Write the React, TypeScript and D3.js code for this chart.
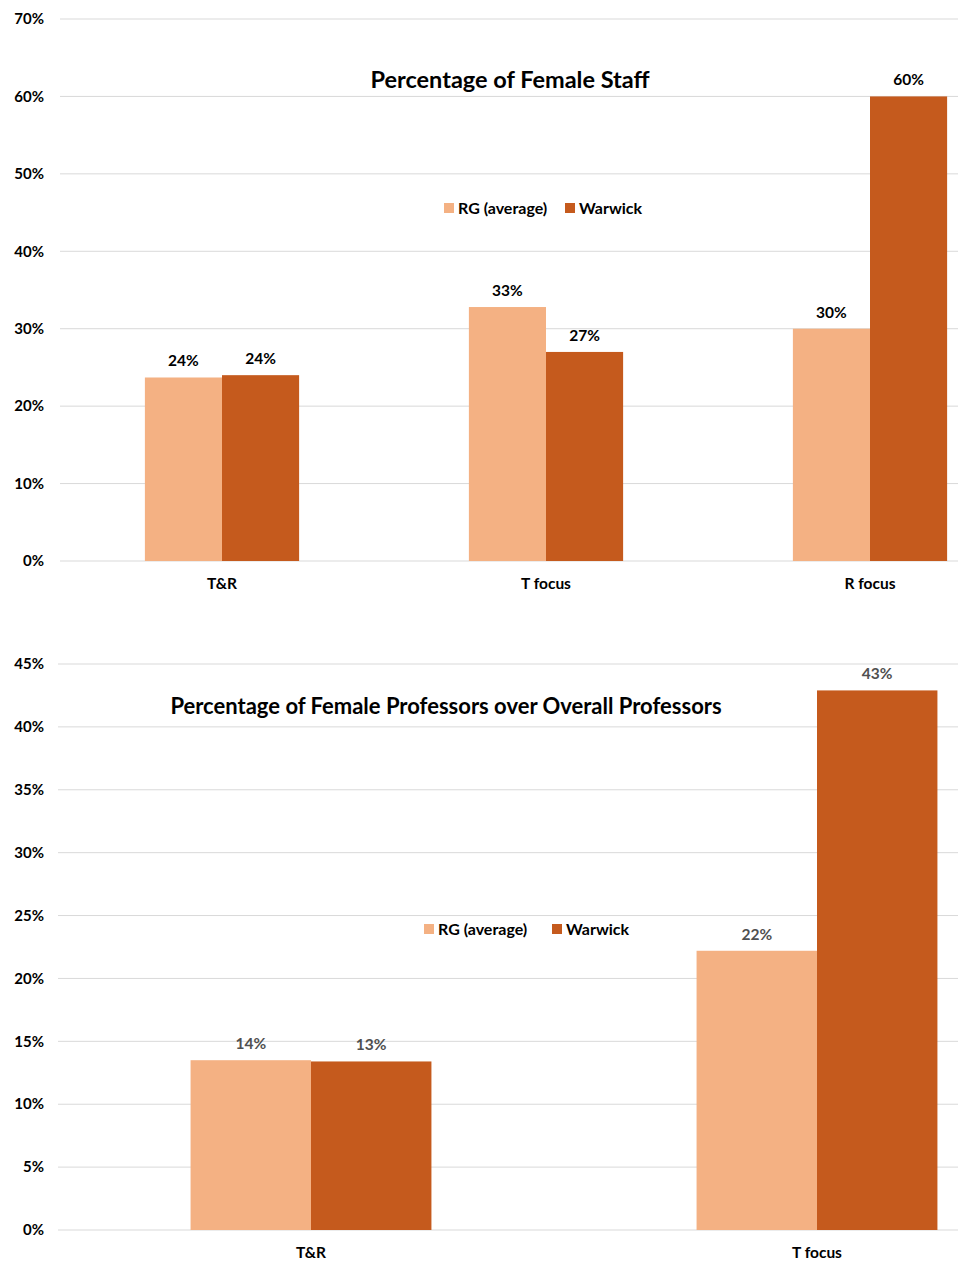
import { useEffect, useRef } from 'react'
import * as d3 from 'd3'

const seriesNames = ['RG (average)', 'Warwick']
const colors = ['#f4b183', '#c55a1d']

const staffCategories = ['T&R', 'T focus', 'R focus']
const staffRG = [0.237, 0.328, 0.30]
const staffWarwick = [0.24, 0.27, 0.60]
const staffTicks = [0, 0.1, 0.2, 0.3, 0.4, 0.5, 0.6, 0.7]

const profCategories = ['T&R', 'T focus']
const profRG = [0.135, 0.222]
const profWarwick = [0.134, 0.429]
const profTicks = [0, 0.05, 0.1, 0.15, 0.2, 0.25, 0.3, 0.35, 0.4, 0.45]

const W = 958
const H = 1269
const font = 'Lato, "Open Sans", sans-serif'

type Panel = {
  title: string
  titleSize: number
  categories: string[]
  rg: number[]
  warwick: number[]
  ticks: number[]
  yRange: [number, number]
  xRange: [number, number]
  titleX: number
  titleY: number
  legendX: number
  legendY: number
  legendGap: number
  labelColor: string
}

const App = () => {
  const ref = useRef<SVGSVGElement>(null)

  useEffect(() => {
    if (!ref.current) return
    const svg = d3.select(ref.current)
    svg.selectAll('*').remove()

    const panels: Panel[] = [
      {
        title: 'Percentage of Female Staff',
        titleSize: 23.5,
        categories: staffCategories,
        rg: staffRG,
        warwick: staffWarwick,
        ticks: staffTicks,
        yRange: [561, 19],
        xRange: [60, 1032],
        titleX: 510, titleY: 80,
        legendX: 444, legendY: 208, legendGap: 121,
        labelColor: '#000000'
      },
      {
        title: 'Percentage of Female Professors over Overall Professors',
        titleSize: 22,
        categories: profCategories,
        rg: profRG,
        warwick: profWarwick,
        ticks: profTicks,
        yRange: [1230, 664],
        xRange: [58, 1070],
        titleX: 446, titleY: 706,
        legendX: 424, legendY: 929, legendGap: 128,
        labelColor: '#505050'
      }
    ]

    panels.forEach(p => {
      const g = svg.append('g')
      const y = d3.scaleLinear()
        .domain([0, p.ticks[p.ticks.length - 1]])
        .range(p.yRange)
      const x = d3.scaleBand()
        .domain(p.categories)
        .range(p.xRange)
        .paddingInner(0.524)
        .paddingOuter(0.262)
      const xs = d3.scaleBand()
        .domain(seriesNames)
        .range([0, x.bandwidth()])

      // gridlines + y labels
      g.selectAll('line.grid')
        .data(p.ticks).enter().append('line')
        .attr('x1', p.xRange[0]).attr('x2', W)
        .attr('y1', d => y(d)).attr('y2', d => y(d))
        .attr('stroke', '#d9d9d9')
        .attr('stroke-width', 1)

      g.selectAll('text.ytick')
        .data(p.ticks).enter().append('text')
        .attr('x', 44)
        .attr('y', d => y(d))
        .attr('dy', '0.35em')
        .attr('text-anchor', 'end')
        .style('font-family', font)
        .style('font-weight', 'bold')
        .style('font-size', '15px')
        .attr('fill', '#000')
        .text(d => d3.format('.0%')(d))

      const rows = p.categories.map((c, i) => [
        { cat: c, s: seriesNames[0], v: p.rg[i], color: colors[0] },
        { cat: c, s: seriesNames[1], v: p.warwick[i], color: colors[1] }
      ]).flat()

      g.selectAll('rect.bar')
        .data(rows).enter().append('rect')
        .attr('x', d => (x(d.cat) as number) + (xs(d.s) as number))
        .attr('width', xs.bandwidth())
        .attr('y', d => y(d.v))
        .attr('height', d => y(0) - y(d.v))
        .attr('fill', d => d.color)

      g.selectAll('text.val')
        .data(rows).enter().append('text')
        .attr('x', d => (x(d.cat) as number) + (xs(d.s) as number) + xs.bandwidth() / 2)
        .attr('y', d => y(d.v) - 11)
        .attr('text-anchor', 'middle')
        .style('font-family', font)
        .style('font-weight', 'bold')
        .style('font-size', '15.5px')
        .attr('fill', p.labelColor)
        .text(d => d3.format('.0%')(d.v))

      g.selectAll('text.cat')
        .data(p.categories).enter().append('text')
        .attr('x', d => (x(d) as number) + x.bandwidth() / 2)
        .attr('y', y(0) + 28)
        .attr('text-anchor', 'middle')
        .style('font-family', font)
        .style('font-weight', 'bold')
        .style('font-size', '15.5px')
        .attr('fill', '#000')
        .text(d => d)

      g.append('text')
        .attr('x', p.titleX)
        .attr('y', p.titleY)
        .attr('dy', '0.35em')
        .attr('text-anchor', 'middle')
        .style('font-family', font)
        .style('font-weight', 'bold')
        .style('font-size', `${p.titleSize}px`)
        .attr('fill', '#000')
        .text(p.title)

      const legend = g.selectAll('g.legend')
        .data(seriesNames).enter().append('g')
        .attr('transform', (d, i) => `translate(${p.legendX + i * p.legendGap},${p.legendY})`)
      legend.append('rect')
        .attr('x', 0).attr('y', -5)
        .attr('width', 10).attr('height', 10)
        .attr('fill', (d, i) => colors[i])
      legend.append('text')
        .attr('x', 14)
        .attr('dy', '0.35em')
        .style('font-family', font)
        .style('font-weight', 'bold')
        .style('font-size', '16px')
        .attr('fill', '#000')
        .text(d => d)
    })
  }, [])

  return (
    <div style={{ position: 'absolute', left: 0, top: 0 }}>
      <svg ref={ref} width={W} height={H} style={{ display: 'block', background: '#fff' }} />
    </div>
  )
}

export default App
